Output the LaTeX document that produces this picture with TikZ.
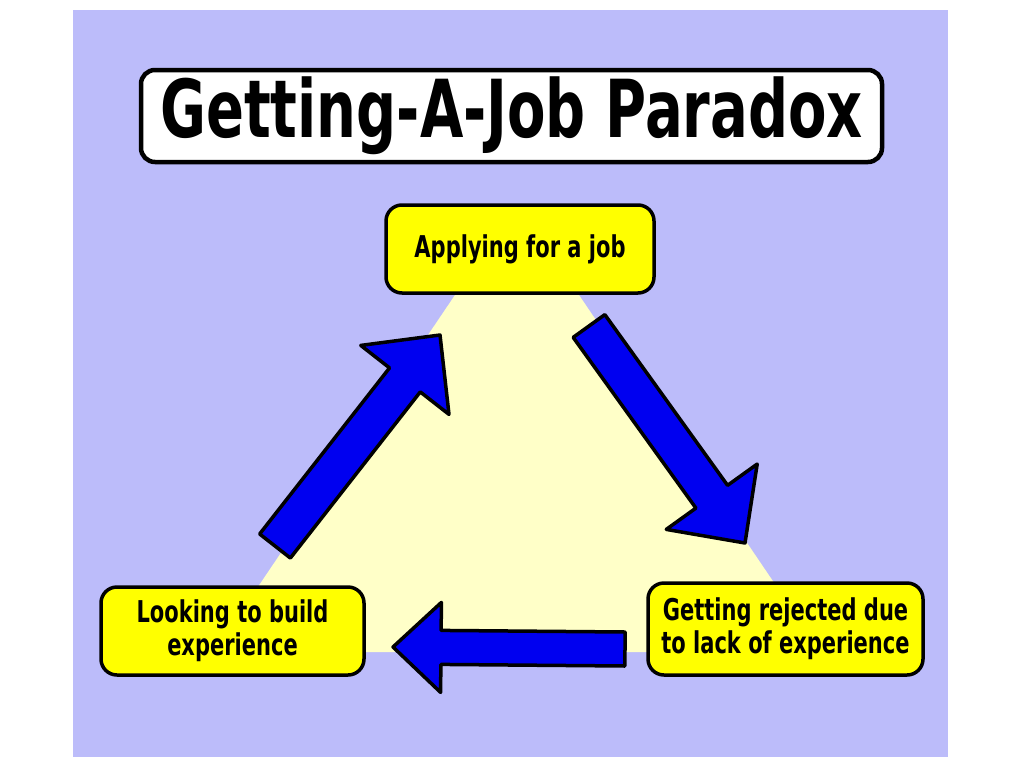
\documentclass[tikz,border=0pt]{standalone}
\usepackage{fontspec}
\newfontfamily\markerfont{DejaVu Sans Bold}[FakeStretch=0.7]
\usetikzlibrary{calc}

\definecolor{lavender}{RGB}{188,188,250}
\definecolor{paleyellow}{RGB}{255,255,200}
\definecolor{boxyellow}{RGB}{255,255,0}
\definecolor{arrowblue}{RGB}{0,0,240}

\tikzset{
  stagebox/.style={draw=black, line width=3.5pt, fill=boxyellow, rounded corners=16pt,
    align=center, inner sep=0pt, font=\markerfont\fontsize{30}{33}\selectfont},
  titlebox/.style={draw=black, line width=4.5pt, fill=white, rounded corners=14pt,
    inner sep=0pt, font=\markerfont\fontsize{80}{90}\selectfont},
  fat arrow/.style={draw=black, line width=3.5pt, fill=arrowblue, line join=round},
}

% tail, tip, shaft half width, head half width, head length
\newcommand{\fatarrow}[5]{%
  \path ($(#2)!#5!(#1)$) coordinate (neck);
  \draw[fat arrow] ($(#1)!#3!90:(#2)$) -- ($(neck)!#3!90:(#2)$) -- ($(neck)!#4!90:(#2)$)
    -- (#2) -- ($(neck)!#4!-90:(#2)$) -- ($(neck)!#3!-90:(#2)$) -- ($(#1)!#3!-90:(#2)$) -- cycle;}

\begin{document}
\begin{tikzpicture}[x=1pt, y=-1pt]
      \useasboundingbox (0,0) rectangle (1024,768);
      \fill[lavender] (73,10) rectangle (948,757);
      \fill[paleyellow] (455,295) -- (579,295) -- (821,652) -- (214,652) -- cycle;

      \coordinate (up tail) at (275,546);
      \coordinate (up tip) at (440,335);
      \coordinate (down tail) at (589,326);
      \coordinate (down tip) at (745,543);
      \coordinate (back tail) at (625,649);
      \coordinate (back tip) at (393,647);
      \fatarrow{up tail}{up tip}{19.5pt}{56pt}{57pt}
      \fatarrow{down tail}{down tip}{19.5pt}{56pt}{57pt}
      \fatarrow{back tail}{back tip}{17pt}{45pt}{48pt}

      \node[titlebox, minimum width=741, minimum height=92] (title) at (511.5,116) {Getting-A-Job Paradox};
      \node[stagebox, minimum width=268, minimum height=88] (apply) at (520,249) {Applying for a job};
      \node[stagebox, minimum width=263, minimum height=88] (build) at (232.5,631) {Looking to build\\experience};
      \node[stagebox, minimum width=275, minimum height=92] (reject) at (785.5,629) {Getting rejected due\\to lack of experience};
\end{tikzpicture}
\end{document}
